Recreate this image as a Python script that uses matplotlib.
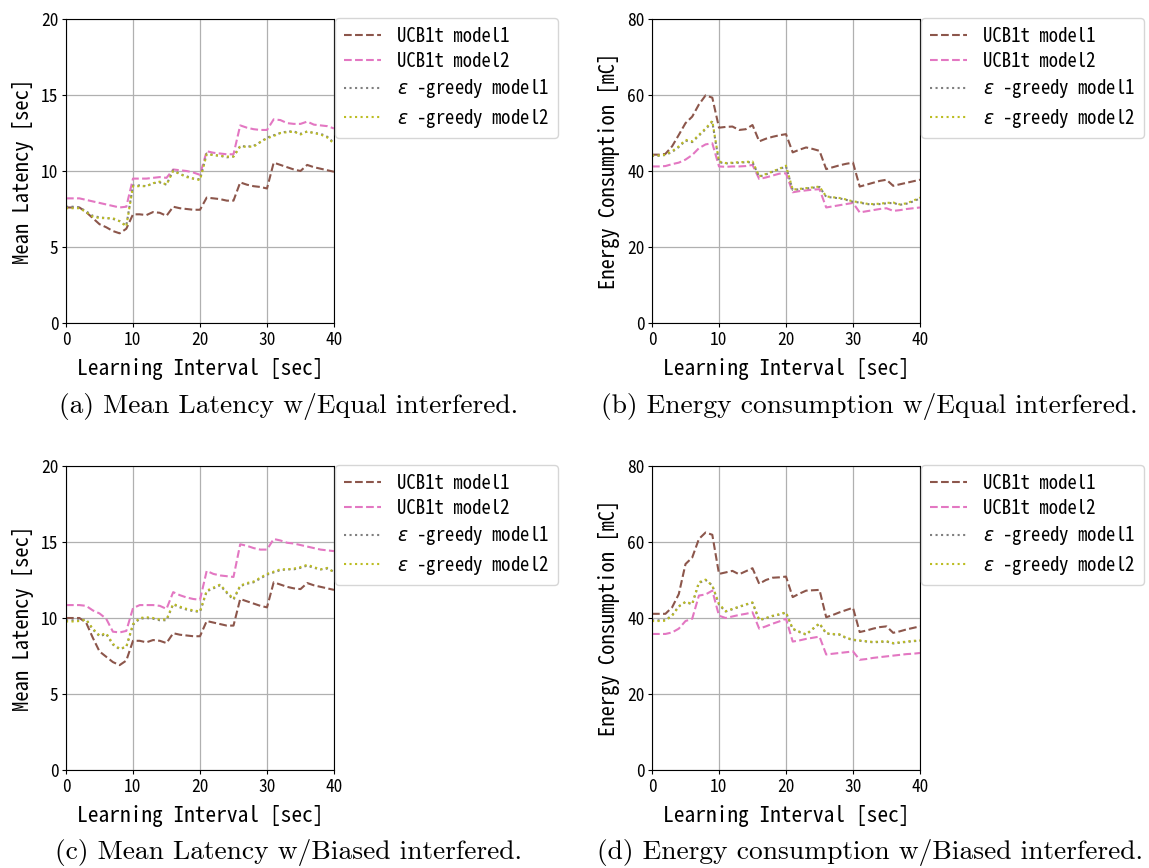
"""Mean latency / energy consumption vs learning interval, four panels."""

import matplotlib

matplotlib.use("Agg")

import matplotlib.pyplot as plt
import numpy as np

plt.rcParams["font.family"] = ["Noto Sans Mono CJK JP", "Noto Sans CJK JP", "DejaVu Sans"]

interval = np.arange(0, 41)

# (a) mean latency, equal interference
lat_eq_ucb_m1 = [7.6, 7.6, 7.6, 7.3, 6.9, 6.5, 6.3, 6.05, 5.9, 6.2, 7.15, 7.15, 7.1, 7.3, 7.25,
                 7.05, 7.65, 7.55, 7.5, 7.45, 7.45, 8.25, 8.2, 8.15, 8.05, 8.05, 9.25, 9.1, 9.0,
                 8.95, 8.85, 10.55, 10.4, 10.25, 10.1, 10.0, 10.4, 10.25, 10.15, 10.05, 9.95]
lat_eq_ucb_m2 = [8.2, 8.2, 8.2, 8.1, 8.0, 7.9, 7.8, 7.7, 7.6, 7.65, 9.5, 9.5, 9.5, 9.55, 9.6,
                 9.55, 10.1, 10.05, 10.0, 9.9, 9.75, 11.3, 11.2, 11.15, 11.1, 11.1, 13.0, 12.85,
                 12.75, 12.7, 12.7, 13.4, 13.35, 13.15, 13.1, 13.1, 13.25, 13.05, 13.0, 12.95, 12.8]
lat_eq_eps_m1 = [7.65, 7.65, 7.6, 7.35, 7.05, 6.95, 6.9, 6.85, 6.7, 6.4, 9.05, 9.05, 9.0, 9.2,
                 9.25, 9.1, 10.05, 9.8, 9.65, 9.5, 9.45, 11.15, 11.05, 11.0, 10.9, 10.95, 11.65,
                 11.6, 11.65, 11.9, 12.2, 12.35, 12.5, 12.6, 12.6, 12.45, 12.6, 12.5, 12.45,
                 12.25, 11.85]
lat_eq_eps_m2 = [7.55, 7.55, 7.55, 7.3, 7.0, 6.9, 6.9, 6.9, 6.7, 6.35, 9.0, 9.0, 9.0, 9.2, 9.3,
                 9.1, 10.0, 9.8, 9.6, 9.5, 9.4, 11.1, 11.05, 11.0, 10.95, 10.95, 11.6, 11.6, 11.6,
                 11.9, 12.15, 12.3, 12.5, 12.55, 12.6, 12.4, 12.6, 12.5, 12.4, 12.2, 11.8]

# (b) energy consumption, equal interference
en_eq_ucb_m1 = [44.3, 44.3, 44.5, 46.5, 49.5, 52.6, 54.3, 57.5, 59.9, 59.3, 51.4, 51.6, 51.7,
                50.8, 51.0, 52.1, 47.8, 48.5, 49.0, 49.4, 49.7, 44.9, 45.6, 46.2, 45.8, 45.3,
                40.5, 41.0, 41.5, 41.9, 42.2, 35.9, 36.4, 36.9, 37.4, 37.7, 36.1, 36.5, 36.9,
                37.3, 37.7]
en_eq_ucb_m2 = [41.2, 41.2, 41.3, 41.8, 42.2, 43.0, 44.2, 46.0, 47.0, 47.3, 41.2, 41.1, 41.2,
                41.2, 41.3, 41.6, 37.9, 38.3, 38.8, 39.3, 39.4, 34.4, 34.7, 34.9, 35.1, 35.2,
                30.4, 30.7, 31.0, 31.3, 31.6, 29.1, 29.4, 29.7, 30.0, 30.2, 29.5, 29.7, 30.0,
                30.2, 30.4]
en_eq_eps_m1 = [44.0, 44.0, 44.2, 45.0, 46.3, 48.0, 47.6, 49.3, 51.0, 52.9, 42.3, 42.0, 42.1,
                42.2, 42.3, 42.3, 38.5, 39.1, 39.8, 40.5, 41.2, 35.0, 35.2, 35.4, 35.6, 35.8,
                33.2, 33.0, 32.8, 32.4, 31.9, 31.7, 31.3, 31.2, 31.3, 31.5, 31.6, 31.1, 31.4,
                32.0, 32.8]
en_eq_eps_m2 = [44.1, 44.1, 44.3, 45.2, 46.5, 48.2, 47.8, 49.5, 51.2, 53.2, 42.5, 42.1, 42.2,
                42.3, 42.4, 42.5, 38.6, 39.2, 39.9, 40.6, 41.4, 35.1, 35.3, 35.5, 35.7, 35.9,
                33.3, 33.1, 32.9, 32.5, 32.0, 31.8, 31.4, 31.3, 31.4, 31.6, 31.7, 31.2, 31.5,
                32.2, 33.0]

# (c) mean latency, biased interference
lat_bi_ucb_m1 = [10.0, 10.0, 10.0, 9.7, 8.7, 7.8, 7.45, 7.1, 6.9, 7.2, 8.5, 8.5, 8.4, 8.55, 8.5,
                 8.35, 9.0, 8.9, 8.85, 8.8, 8.8, 9.8, 9.7, 9.6, 9.5, 9.5, 11.25, 11.1, 10.95,
                 10.8, 10.7, 12.35, 12.2, 12.05, 11.95, 11.9, 12.3, 12.15, 12.05, 11.95, 11.85]
lat_bi_ucb_m2 = [10.85, 10.85, 10.85, 10.8, 10.5, 10.3, 9.95, 9.1, 9.05, 9.15, 10.65, 10.85,
                 10.85, 10.85, 10.8, 10.6, 11.7, 11.5, 11.35, 11.25, 11.2, 13.1, 12.9, 12.8,
                 12.75, 12.7, 14.85, 14.75, 14.6, 14.5, 14.5, 15.2, 15.1, 14.95, 14.9, 14.8,
                 14.7, 14.6, 14.5, 14.45, 14.4]
lat_bi_eps_m1 = [9.85, 9.85, 9.85, 9.9, 9.25, 8.8, 8.95, 8.25, 7.95, 8.1, 9.55, 9.95, 10.0, 9.95,
                 9.85, 9.85, 10.9, 10.7, 10.55, 10.45, 10.4, 11.75, 11.95, 12.15, 11.65, 11.2,
                 12.1, 12.25, 12.35, 12.6, 12.85, 13.0, 13.15, 13.2, 13.2, 13.3, 13.45, 13.3,
                 13.2, 13.25, 13.05]
lat_bi_eps_m2 = [9.77, 9.77, 9.8, 9.9, 9.3, 8.85, 9.0, 8.3, 7.98, 8.1, 9.6, 10.0, 10.05, 10.0,
                 9.9, 9.9, 10.93, 10.75, 10.6, 10.5, 10.43, 11.8, 12.0, 12.2, 11.7, 11.26, 12.13,
                 12.3, 12.4, 12.65, 12.9, 13.05, 13.2, 13.2, 13.25, 13.35, 13.5, 13.35, 13.2,
                 13.3, 13.0]

# (d) energy consumption, biased interference
en_bi_ucb_m1 = [41.1, 41.1, 41.1, 42.8, 46.3, 54.2, 55.9, 60.8, 62.5, 61.9, 51.6, 52.0, 52.4,
                51.5, 52.3, 53.1, 49.0, 50.0, 50.6, 50.7, 50.9, 45.5, 46.4, 47.2, 47.3, 47.4,
                40.2, 40.8, 41.5, 42.1, 42.7, 36.3, 36.7, 37.2, 37.6, 37.8, 36.1, 36.5, 37.0,
                37.4, 37.8]
en_bi_ucb_m2 = [35.8, 35.8, 35.8, 36.2, 37.2, 39.2, 39.8, 45.9, 46.2, 47.2, 40.6, 40.0, 40.4,
                40.8, 41.1, 41.5, 37.2, 37.8, 38.5, 39.1, 39.8, 33.8, 34.1, 34.5, 34.8, 35.1,
                30.4, 30.6, 30.8, 31.0, 31.2, 29.0, 29.2, 29.5, 29.7, 29.9, 30.1, 30.3, 30.5,
                30.6, 30.8]
en_bi_eps_m1 = [39.4, 39.4, 39.4, 40.7, 43.1, 44.2, 43.6, 49.2, 50.0, 48.6, 43.5, 41.7, 42.3,
                42.9, 43.5, 44.0, 39.4, 39.9, 40.5, 40.9, 41.4, 37.1, 36.3, 35.6, 37.1, 38.5,
                35.9, 35.7, 35.6, 34.7, 34.2, 34.0, 33.8, 33.6, 33.7, 33.8, 33.3, 33.5, 33.7,
                33.9, 34.0]
en_bi_eps_m2 = [39.2, 39.2, 39.3, 40.6, 43.0, 44.3, 43.7, 49.4, 50.1, 48.5, 43.7, 41.8, 42.4,
                43.0, 43.6, 44.1, 39.5, 40.0, 40.6, 41.0, 41.5, 37.2, 36.4, 35.7, 37.2, 38.6,
                36.0, 35.8, 35.7, 34.8, 34.3, 34.1, 33.9, 33.7, 33.8, 33.9, 33.4, 33.6, 33.8,
                34.0, 34.1]

labels = ["UCB1t model1", "UCB1t model2",
          "$\\varepsilon$ -greedy model1", "$\\varepsilon$ -greedy model2"]
colors = ["#8c564b", "#e377c2", "#7f7f7f", "#bcbd22"]
styles = ["--", "--", ":", ":"]

panels = [
    ((lat_eq_ucb_m1, lat_eq_ucb_m2, lat_eq_eps_m1, lat_eq_eps_m2), "Mean Latency [sec]", 20, 5,
     "(a) Mean Latency w/Equal interfered."),
    ((en_eq_ucb_m1, en_eq_ucb_m2, en_eq_eps_m1, en_eq_eps_m2), "Energy Consumption [mC]", 80, 20,
     "(b) Energy consumption w/Equal interfered."),
    ((lat_bi_ucb_m1, lat_bi_ucb_m2, lat_bi_eps_m1, lat_bi_eps_m2), "Mean Latency [sec]", 20, 5,
     "(c) Mean Latency w/Biased interfered."),
    ((en_bi_ucb_m1, en_bi_ucb_m2, en_bi_eps_m1, en_bi_eps_m2), "Energy Consumption [mC]", 80, 20,
     "(d) Energy consumption w/Biased interfered."),
]

fig = plt.figure(figsize=(11.49, 8.68), dpi=100)
lefts = [66 / 1149, 652 / 1149]
bottoms = [1 - 323 / 868, 1 - 770 / 868]
width, height = 268 / 1149, 304 / 868
caption_x = [0.251, 0.757]
caption_y = [1 - 407 / 868, 1 - 852 / 868]

for i, (series, ylabel, ymax, ystep, caption) in enumerate(panels):
    row, col = divmod(i, 2)
    ax = fig.add_axes([lefts[col], bottoms[row], width, height])
    for values, label, color, ls in zip(series, labels, colors, styles):
        ax.plot(interval, values, ls, color=color, lw=1.5, label=label)
    ax.set_xlim(0, 40)
    ax.set_ylim(0, ymax)
    ax.set_xticks(np.arange(0, 41, 10))
    ax.set_yticks(np.arange(0, ymax + 1, ystep))
    ax.tick_params(labelsize=12.5, length=3, pad=2.5)
    ax.grid(True, color="#b0b0b0", lw=0.9)
    ax.set_xlabel("Learning Interval [sec]", fontsize=15.4, labelpad=7)
    ax.set_ylabel(ylabel, fontsize=14.8, labelpad=5)
    ax.legend(loc="upper left", bbox_to_anchor=(1.005, 1.003), borderaxespad=0,
              fontsize=13.5, handlelength=2.0, labelspacing=0.34, handletextpad=0.85,
              borderpad=0.45)
    fig.text(caption_x[col], caption_y[row], caption, family="cmr10", fontsize=19.8,
             ha="center", va="center")

fig.savefig("out.png", dpi=100)
plt.close(fig)
